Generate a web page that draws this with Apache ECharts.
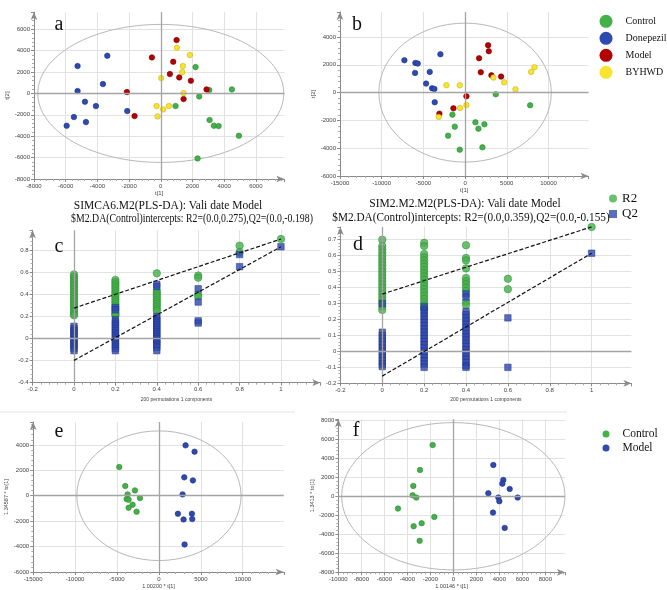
<!DOCTYPE html>
<html><head><meta charset="utf-8">
<script src="https://cdn.jsdelivr.net/npm/echarts@6/dist/echarts.min.js"></script>
<style>html,body{margin:0;padding:0;background:#fff}#c{width:667px;height:590px}</style>
</head><body><div id="c"></div>
<script>
// ---------- Panel a (scores t[1] vs t[2]) ----------
const aControl   = [[2195,2461],[3057,312],[4487,374],[2426,-280],[932,-1184],[3078,-2492],[3352,-3022],[3647,-3053],[4929,-3956],[2321,-6075]];
const aDonepezil = [[-5251,2555],[-3376,3520],[-5251,218],[-3651,872],[-4785,-779],[-4091,-1184],[-2117,-1651],[-5482,-2212],[-4722,-2679],[-5940,-3022]];
const aModel     = [[995,4984],[-561,3364],[785,2960],[574,1807],[1163,1495],[1899,1184],[-2138,125],[2887,374],[1437,-530],[-1654,-2118]];
const aBYHWD     = [[1016,4268],[1836,3583],[1394,2555],[1352,1994],[27,1433],[1437,31],[-267,-1184],[153,-1495],[511,-1184],[-204,-2150]];
const aEllipse   = [0,0,7760,6450];
// ---------- Panel b ----------
const bControl   = [[3680,-120],[7800,-912],[-1520,-1585],[1240,-2137],[2320,-2281],[1600,-2593],[-1240,-2449],[-2040,-3097],[2080,-3938],[-640,-4106]];
const bDonepezil = [[-7280,2329],[-5960,2137],[-5680,2089],[-2960,2761],[-6000,1417],[-4240,1489],[-4680,648],[-3960,312],[-3680,264],[-3640,-696]];
const bModel     = [[2760,3409],[2840,2977],[1680,2473],[1880,1465],[3160,1248],[4320,1152],[160,-264],[-1400,-1128],[-3080,-1513]];
const bBYHWD     = [[8320,1825],[7920,1489],[3400,1080],[4680,744],[6040,240],[-2240,528],[-640,528],[160,-888],[-600,-1104],[-3160,-1753]];
const bEllipse   = [0,0,10340,5000];
// ---------- Panel c (permutation test) ----------
const permX = [0, 0.2, 0.4, 0.6, 0.8, 1];
const cR2 = [
  [0.58,0.56,0.54,0.52,0.50,0.48,0.46,0.44,0.42,0.40,0.38,0.36,0.34,0.32,0.30,0.28,0.26,0.24,0.22,0.21],
  [0.53,0.51,0.49,0.47,0.45,0.43,0.41,0.39,0.37,0.35,0.33,0.31,0.29,0.27,0.25,0.23,0.22,0.21],
  [0.59,0.43,0.41,0.39,0.37,0.35,0.33,0.31,0.29,0.27,0.25],
  [0.57,0.55,0.40,0.38],
  [0.84,0.78],
  [0.90]
];
const cQ2 = [
  [0.11,0.09,0.07,0.05,0.03,0.01,-0.01,-0.03,-0.05,-0.07,-0.09,-0.11],
  [0.28,0.26,0.17,0.15,0.13,0.11,0.09,0.07,0.05,0.03,0.01,-0.01,-0.03,-0.05,-0.07,-0.09,-0.11],
  [0.49,0.47,0.20,0.18,0.16,0.14,0.12,0.10,0.08,0.06,0.04,0.02,0.00,-0.02,-0.04,-0.06,-0.08,-0.11],
  [0.45,0.33,0.16,0.14],
  [0.76,0.65],
  [0.83]
];
const cR2Line = [[0,0.275],[1,0.90]];
const cQ2Line = [[0,-0.198],[1,0.83]];
// ---------- Panel d ----------
const dR2 = [
  [0.70,0.66,0.64,0.62,0.60,0.58,0.56,0.54,0.52,0.50,0.48,0.46,0.44,0.42,0.40,0.38,0.36,0.34,0.32,0.30,0.28,0.26],
  [0.68,0.66,0.61,0.59,0.57,0.55,0.53,0.51,0.49,0.47,0.45,0.43,0.41,0.39,0.37,0.35,0.33,0.31,0.29,0.27],
  [0.665,0.585,0.57,0.52,0.46,0.44,0.42,0.40,0.38,0.31,0.29],
  [0.455,0.39],
  [],
  [0.78]
];
const dQ2 = [
  [0.30,0.12,0.10,0.08,0.06,0.04,0.02,0.00,-0.02,-0.04,-0.06,-0.08,-0.095],
  [0.28,0.26,0.24,0.22,0.20,0.18,0.16,0.14,0.12,0.10,0.08,0.06,0.04,0.02,0.00,-0.02,-0.04,-0.06,-0.08,-0.10],
  [0.36,0.34,0.25,0.23,0.21,0.19,0.17,0.15,0.13,0.11,0.09,0.07,0.05,0.03,0.01,-0.01,-0.03,-0.05,-0.07,-0.09,-0.10],
  [0.21,-0.10],
  [],
  [0.615]
];
const dR2Line = [[0,0.359],[1,0.78]];
const dQ2Line = [[0,-0.155],[1,0.615]];
// ---------- Panel e (OPLS-DA) ----------
const eControl = [[-4730,2257],[-4014,761],[-2862,420],[-3736,105],[-3855,-262],[-3617,-315],[-2266,-184],[-3140,-709],[-3617,-945],[-2663,-1260]];
const eModel   = [[3180,3963],[4253,3465],[3021,1444],[4054,1207],[2822,105],[2266,-1417],[3935,-1417],[2941,-1864],[3975,-1837],[3061,-3832]];
const eEllipse = [0,0,9800,5100];
// ---------- Panel f ----------
const fControl = [[-1797,5394],[-2899,2767],[-3478,1086],[-3536,105],[-3217,-140],[-4812,-1296],[-1652,-2172],[-2754,-2837],[-3449,-3152],[-2928,-4693]];
const fModel   = [[3478,3292],[4348,1716],[4261,1331],[4899,771],[3043,315],[3913,-140],[4000,-525],[5594,-140],[3449,-1716],[4464,-3327]];
const fEllipse = [0,0,9700,7750];

const GREEN='#43b04a', BLUE='#2e49b0', RED='#b30000', YELLOW='#f7e42e';
const GREEN_B='#2d8a33', BLUE_B='#1d318a', RED_B='#800000', YELLOW_B='#c9b61a';
const AX='#8a8a8a';
const fmt = v => String(Math.round(v*1e6)/1e6);

function mkX(gi,min,max,interval,name,gap,nsize){
  return {gridIndex:gi,type:'value',min,max,interval,
    axisLine:{show:true,onZero:false,symbol:['none','arrow'],symbolSize:[5,8],lineStyle:{color:AX,width:1}},
    axisTick:{show:true,length:3,lineStyle:{color:AX}},
    minorTick:{show:true,splitNumber:5,length:2,lineStyle:{color:'#aaaaaa'}},
    axisLabel:{show:true,fontSize:6,color:'#444',margin:4,showMaxLabel:false,formatter:fmt,fontFamily:'Liberation Sans'},
    splitLine:{show:true,showMinLine:false,showMaxLine:false,lineStyle:{color:'#e2e2e2',width:1}},
    name,nameLocation:'middle',nameGap:gap,nameTextStyle:{fontSize:nsize,color:'#444',fontFamily:'Liberation Sans'}};
}
function mkY(gi,min,max,interval,name,gap,nsize){
  const o=mkX(gi,min,max,interval,name,gap,nsize);
  o.axisLabel.margin=4;
  return o;
}
function ellipseSeries(gi,e){
  return {type:'custom',coordinateSystem:'cartesian2d',xAxisIndex:gi,yAxisIndex:gi,silent:true,z:1,
    data:[e],encode:{x:0,y:1},clip:false,
    renderItem:function(params,api){
      const c=api.coord([api.value(0),api.value(1)]);
      const s=api.size([api.value(2),api.value(3)]);
      return {type:'ellipse',shape:{cx:c[0],cy:c[1],rx:s[0],ry:s[1]},style:{fill:null,stroke:'#b8b8b8',lineWidth:1}};
    }};
}
function zeroLines(gi){
  return {type:'line',xAxisIndex:gi,yAxisIndex:gi,data:[],silent:true,z:1,
    markLine:{silent:true,symbol:['none','none'],label:{show:false},animation:false,
      lineStyle:{color:'#a4a4a4',width:1.3,type:'solid'},data:[{xAxis:0},{yAxis:0}]}};
}
function sc(gi,name,data,color,border,size){
  return {type:'scatter',name,xAxisIndex:gi,yAxisIndex:gi,data,symbolSize:size||5.5,z:3,
    itemStyle:{color,borderColor:border,borderWidth:0.6,opacity:1}};
}
function colPoints(xs,cols){
  const out=[];
  cols.forEach((col,i)=>col.forEach(v=>out.push([xs[i],v])));
  return out;
}
function dashed(gi,data){
  return {type:'line',xAxisIndex:gi,yAxisIndex:gi,data,symbol:'none',silent:true,z:6,
    lineStyle:{color:'#111',width:1.2,type:[4,2]}};
}
function txt(x,y,text,font,sx){
  return {type:'text',x,y,scaleX:sx||1,silent:true,z:100,
    style:{text,font,fill:'#111',textAlign:'center',textVerticalAlign:'middle',align:'center',verticalAlign:'middle'}};
}
function hline(x1,y1,x2,y2){
  return {type:'line',silent:true,z:0,shape:{x1,y1,x2,y2},style:{stroke:'#e4e4e4',lineWidth:1}};
}

const SERIF="'Liberation Serif','Times New Roman',serif";
const chart=echarts.init(document.getElementById('c'),null,{renderer:'canvas'});
const option={
  animation:false,
  backgroundColor:'#fff',
  grid:[
    {left:34,top:12.1,width:250.4,height:166.9,outerBoundsMode:'none'},
    {left:340,top:12,width:248.5,height:164,outerBoundsMode:'none'},
    {left:32.6,top:230.2,width:287.7,height:152.5,outerBoundsMode:'none'},
    {left:340.4,top:226.9,width:291,height:156.4,outerBoundsMode:'none'},
    {left:33.2,top:422,width:250.6,height:150,outerBoundsMode:'none'},
    {left:338.3,top:419.3,width:226.6,height:153,outerBoundsMode:'none'}
  ],
  xAxis:[
    mkX(0,-8000,7800,2000,'t[1]',11,6),
    mkX(1,-15000,14800,5000,'t[1]',11,6),
    mkX(2,-0.2,1.19,0.2,'200 permutations 1 components',14,5),
    mkX(3,-0.2,1.19,0.2,'200 permutations 1 components',14,5),
    mkX(4,-15000,14900,5000,'1.00200 * t[1]',11.5,5.5),
    mkX(5,-10000,9700,2000,'1.00146 * t[1]',11.5,5.5)
  ],
  yAxis:[
    mkY(0,-8000,7600,2000,'t[2]',11,6),
    mkY(1,-6000,5800,2000,'t[2]',20,6),
    mkY(2,-0.4,0.98,0.2,'',10,6),
    mkY(3,-0.2,0.78,0.1,'',10,6),
    mkY(4,-6000,5800,2000,'1.34587 * to[1]',20,5.5),
    mkY(5,-8000,8100,2000,'1.3413 * to[1]',17,5.5)
  ],
  legend:[
    {orient:'vertical',left:599.5,top:14.8,padding:0,itemWidth:13,itemHeight:13,itemGap:4,icon:'circle',selectedMode:false,
      textStyle:{fontFamily:SERIF,fontSize:10,color:'#111',padding:[0,0,0,8]},
      data:[{name:'Control',itemStyle:{color:GREEN,borderWidth:0}},{name:'Donepezil',itemStyle:{color:BLUE,borderWidth:0}},
            {name:'Model',itemStyle:{color:RED,borderWidth:0}},{name:'BYHWD',itemStyle:{color:YELLOW,borderWidth:0}}]},
    {orient:'vertical',left:609,top:191.5,padding:0,itemWidth:8,itemHeight:8,itemGap:1.5,selectedMode:false,
      textStyle:{fontFamily:SERIF,fontSize:13,color:'#111',lineHeight:14},
      data:[{name:'R2',icon:'circle',itemStyle:{color:GREEN,borderWidth:0}},{name:'Q2',icon:'rect',itemStyle:{color:BLUE,borderWidth:0}}]},
    {orient:'vertical',left:602.5,top:427.5,padding:0,itemWidth:7,itemHeight:7,itemGap:1,icon:'circle',selectedMode:false,
      textStyle:{fontFamily:SERIF,fontSize:11.5,color:'#111',padding:[0,0,0,8],lineHeight:13},
      data:[{name:'Control',itemStyle:{color:GREEN,borderWidth:0}},{name:'Model',itemStyle:{color:BLUE,borderWidth:0}}]}
  ],
  graphic:[
    hline(0,412,295,412), hline(330,412,567,412),
    txt(59,25,'a','20px '+SERIF), txt(357,25,'b','20px '+SERIF),
    txt(59,247,'c','20px '+SERIF), txt(358,245,'d','20px '+SERIF),
    txt(59,432,'e','20px '+SERIF), txt(356,431,'f','20px '+SERIF),
    txt(168,205.7,'SIMCA6.M2(PLS-DA): Vali date Model','12.5px '+SERIF,0.92),
    txt(192,219,'$M2.DA(Control)intercepts: R2=(0.0,0.275),Q2=(0.0,-0.198)','12.5px '+SERIF,0.785),
    txt(465,203.3,'SIM2.M2.M2(PLS-DA): Vali date Model','12.5px '+SERIF,0.92),
    txt(471,218,'$M2.DA(Control)intercepts: R2=(0.0,0.359),Q2=(0.0,-0.155)','12.5px '+SERIF,0.9)
  ],
  series:[
    ellipseSeries(0,aEllipse), zeroLines(0),
    sc(0,'Control',aControl,GREEN,GREEN_B), sc(0,'Donepezil',aDonepezil,BLUE,BLUE_B),
    sc(0,'Model',aModel,RED,RED_B), sc(0,'BYHWD',aBYHWD,YELLOW,YELLOW_B),

    ellipseSeries(1,bEllipse), zeroLines(1),
    sc(1,'Control',bControl,GREEN,GREEN_B), sc(1,'Donepezil',bDonepezil,BLUE,BLUE_B),
    sc(1,'Model',bModel,RED,RED_B), sc(1,'BYHWD',bBYHWD,YELLOW,YELLOW_B),

    zeroLines(2),
    {type:'scatter',name:'R2',xAxisIndex:2,yAxisIndex:2,data:colPoints(permX,cR2),symbol:'circle',symbolSize:7.5,z:3,
      itemStyle:{color:GREEN,borderColor:GREEN_B,borderWidth:0.6}},
    {type:'scatter',name:'Q2',xAxisIndex:2,yAxisIndex:2,data:colPoints(permX,cQ2),symbol:'rect',symbolSize:6.5,z:4,
      itemStyle:{color:BLUE,borderColor:BLUE_B,borderWidth:0.6}},
    dashed(2,cR2Line), dashed(2,cQ2Line),

    zeroLines(3),
    {type:'scatter',name:'R2',xAxisIndex:3,yAxisIndex:3,data:colPoints(permX,dR2),symbol:'circle',symbolSize:7.5,z:3,
      itemStyle:{color:GREEN,borderColor:GREEN_B,borderWidth:0.6}},
    {type:'scatter',name:'Q2',xAxisIndex:3,yAxisIndex:3,data:colPoints(permX,dQ2),symbol:'rect',symbolSize:6.5,z:4,
      itemStyle:{color:BLUE,borderColor:BLUE_B,borderWidth:0.6}},
    dashed(3,dR2Line), dashed(3,dQ2Line),

    ellipseSeries(4,eEllipse), zeroLines(4),
    sc(4,'Control',eControl,GREEN,GREEN_B), sc(4,'Model',eModel,BLUE,BLUE_B),

    ellipseSeries(5,fEllipse), zeroLines(5),
    sc(5,'Control',fControl,GREEN,GREEN_B), sc(5,'Model',fModel,BLUE,BLUE_B)
  ]
};
chart.setOption(option);
</script>
</body></html>
